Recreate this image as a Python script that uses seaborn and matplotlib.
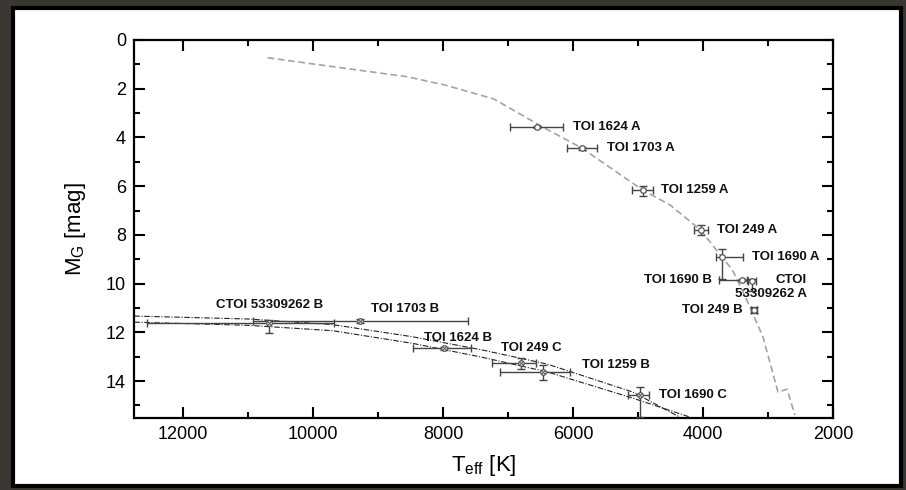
"""HR diagram of TOI systems: isochrone, WD cooling tracks and measured components."""
import matplotlib.pyplot as plt
import seaborn as sns
from matplotlib.patches import Rectangle
from matplotlib.ticker import MultipleLocator

# isochrone (grey dashed)
iso_teff = [10700, 8550, 7970, 7220, 6470, 5870, 4930, 4510, 4040, 3710, 3550, 3330, 3080, 2850, 2710, 2590]
iso_mg = [0.73, 1.51, 1.85, 2.42, 3.57, 4.43, 6.16, 6.77, 7.80, 8.91, 9.44, 10.67, 12.19, 14.45, 14.33, 15.39]

# white dwarf cooling tracks (dash-dot)
trk1_teff = [12750, 11000, 9700, 8470, 7400, 6400, 5080, 4360]
trk1_mg = [11.33, 11.45, 11.68, 12.18, 12.72, 13.30, 14.45, 15.48]
trk2_teff = [12750, 11000, 9700, 8470, 7400, 6400, 5080, 4200]
trk2_mg = [11.58, 11.71, 11.93, 12.45, 13.02, 13.62, 14.70, 15.48]

# measured components
names = ["TOI 1624 A", "TOI 1703 A", "TOI 1259 A", "TOI 249 A", "TOI 1690 A",
         "TOI 1690 B", "CTOI\n53309262 A", "TOI 249 B",
         "CTOI 53309262 B", "TOI 1703 B", "TOI 1624 B", "TOI 249 C", "TOI 1259 B", "TOI 1690 C"]
teff = [6550, 5870, 4930, 4035, 3717, 3409, 3255, 3220, 10677, 9271, 7985, 6805, 6471, 4974]
teff_hi = [420, 230, 160, 105, 90, 350, 60, 45, 1870, 1660, 480, 440, 660, 180]   # toward hotter
teff_lo = [390, 230, 160, 105, 330, 90, 60, 45, 1000, 1660, 410, 240, 420, 145]   # toward cooler
mg = [3.56, 4.45, 6.16, 7.80, 8.90, 9.85, 9.90, 11.08, 11.63, 11.54, 12.66, 13.27, 13.64, 14.57]
mg_up = [0.05, 0.06, 0.25, 0.22, 0.90, 0.06, 0.40, 0.12, 0.38, 0.07, 0.07, 0.23, 0.30, 0.92]
mg_dn = [0.05, 0.06, 0.18, 0.22, 0.34, 0.06, 0.08, 0.12, 0.12, 0.07, 0.07, 0.23, 0.30, 0.31]
is_wd = [False] * 8 + [True] * 6

# label anchor positions and alignment
lab_teff = [6005, 5486, 4651, 3789, 3251, 3871, 2405, 3394, 10666, 8589, 7774, 6640, 5343, 4677]
lab_mg = [3.57, 4.43, 6.16, 7.80, 8.90, 9.85, 10.14, 11.08, 10.88, 11.04, 12.22, 12.66, 13.34, 14.57]
lab_ha = ["left", "left", "left", "left", "left", "right", "right", "right",
          "center", "center", "center", "center", "center", "left"]

sns.set_theme(style="ticks")
plt.rcParams["font.family"] = ["Liberation Sans", "DejaVu Sans"]
plt.rcParams["mathtext.fontset"] = "custom"
plt.rcParams["mathtext.rm"] = "Liberation Sans"

fig = plt.figure(figsize=(9.06, 4.90), dpi=100, facecolor="#3a3631")
fig.patches.append(Rectangle((13 / 906, 4 / 490), 888 / 906, 478 / 490, transform=fig.transFigure,
                             facecolor="white", edgecolor="black", linewidth=3, zorder=-10))
ax = fig.add_axes([0.1482, 0.1476, 0.7715, 0.7708])
ax.set_zorder(2)
ax.set_facecolor("white")

sns.lineplot(x=iso_teff, y=iso_mg, sort=False, estimator=None, ax=ax, color="#a4a4a4",
             linewidth=1.2, linestyle=(0, (4, 2.2)))
for tt, mm in [(trk1_teff, trk1_mg), (trk2_teff, trk2_mg)]:
    sns.lineplot(x=tt, y=mm, sort=False, estimator=None, ax=ax, color="#222222",
                 linewidth=0.8, linestyle=(0, (5, 1.5, 1, 1.5)))

ax.errorbar(teff, mg, xerr=[teff_lo, teff_hi], yerr=[mg_dn, mg_up], fmt="none",
            ecolor="#444444", elinewidth=1.0, capsize=2.6, capthick=1.0, zorder=3)
sns.scatterplot(x=teff, y=mg, ax=ax, marker="o", s=16, facecolor="white",
                edgecolor="#555555", linewidth=0.9, zorder=4)
wd_t = [t for t, w in zip(teff, is_wd) if w]
wd_m = [m for m, w in zip(mg, is_wd) if w]
sns.scatterplot(x=wd_t, y=wd_m, ax=ax, marker="x", s=9, color="#555555", linewidth=0.7, zorder=5)

for n, x, y, ha in zip(names, lab_teff, lab_mg, lab_ha):
    ax.text(x, y, n, ha=ha, va="center", multialignment="right", fontsize=9.5,
            fontweight="bold", color="#111111", zorder=6)

ax.set_xlim(12750, 2000)
ax.set_ylim(15.5, 0)
ax.xaxis.set_major_locator(MultipleLocator(2000))
ax.xaxis.set_minor_locator(MultipleLocator(1000))
ax.yaxis.set_major_locator(MultipleLocator(2))
ax.yaxis.set_minor_locator(MultipleLocator(1))
ax.tick_params(which="both", direction="in", top=True, right=True, width=1.5, color="black",
               labelsize=13, pad=6, labelcolor="black")
ax.tick_params(which="major", length=8)
ax.tick_params(which="minor", length=4)
for sp in ax.spines.values():
    sp.set_linewidth(1.6)
    sp.set_color("black")

ax.set_xlabel(r"T$_\mathregular{eff}$ [K]", fontsize=16, labelpad=7, color="black")
ax.set_ylabel(r"M$_\mathregular{G}$ [mag]", fontsize=16, labelpad=13, color="black")

fig.savefig("out.png", dpi=100, facecolor=fig.get_facecolor())
